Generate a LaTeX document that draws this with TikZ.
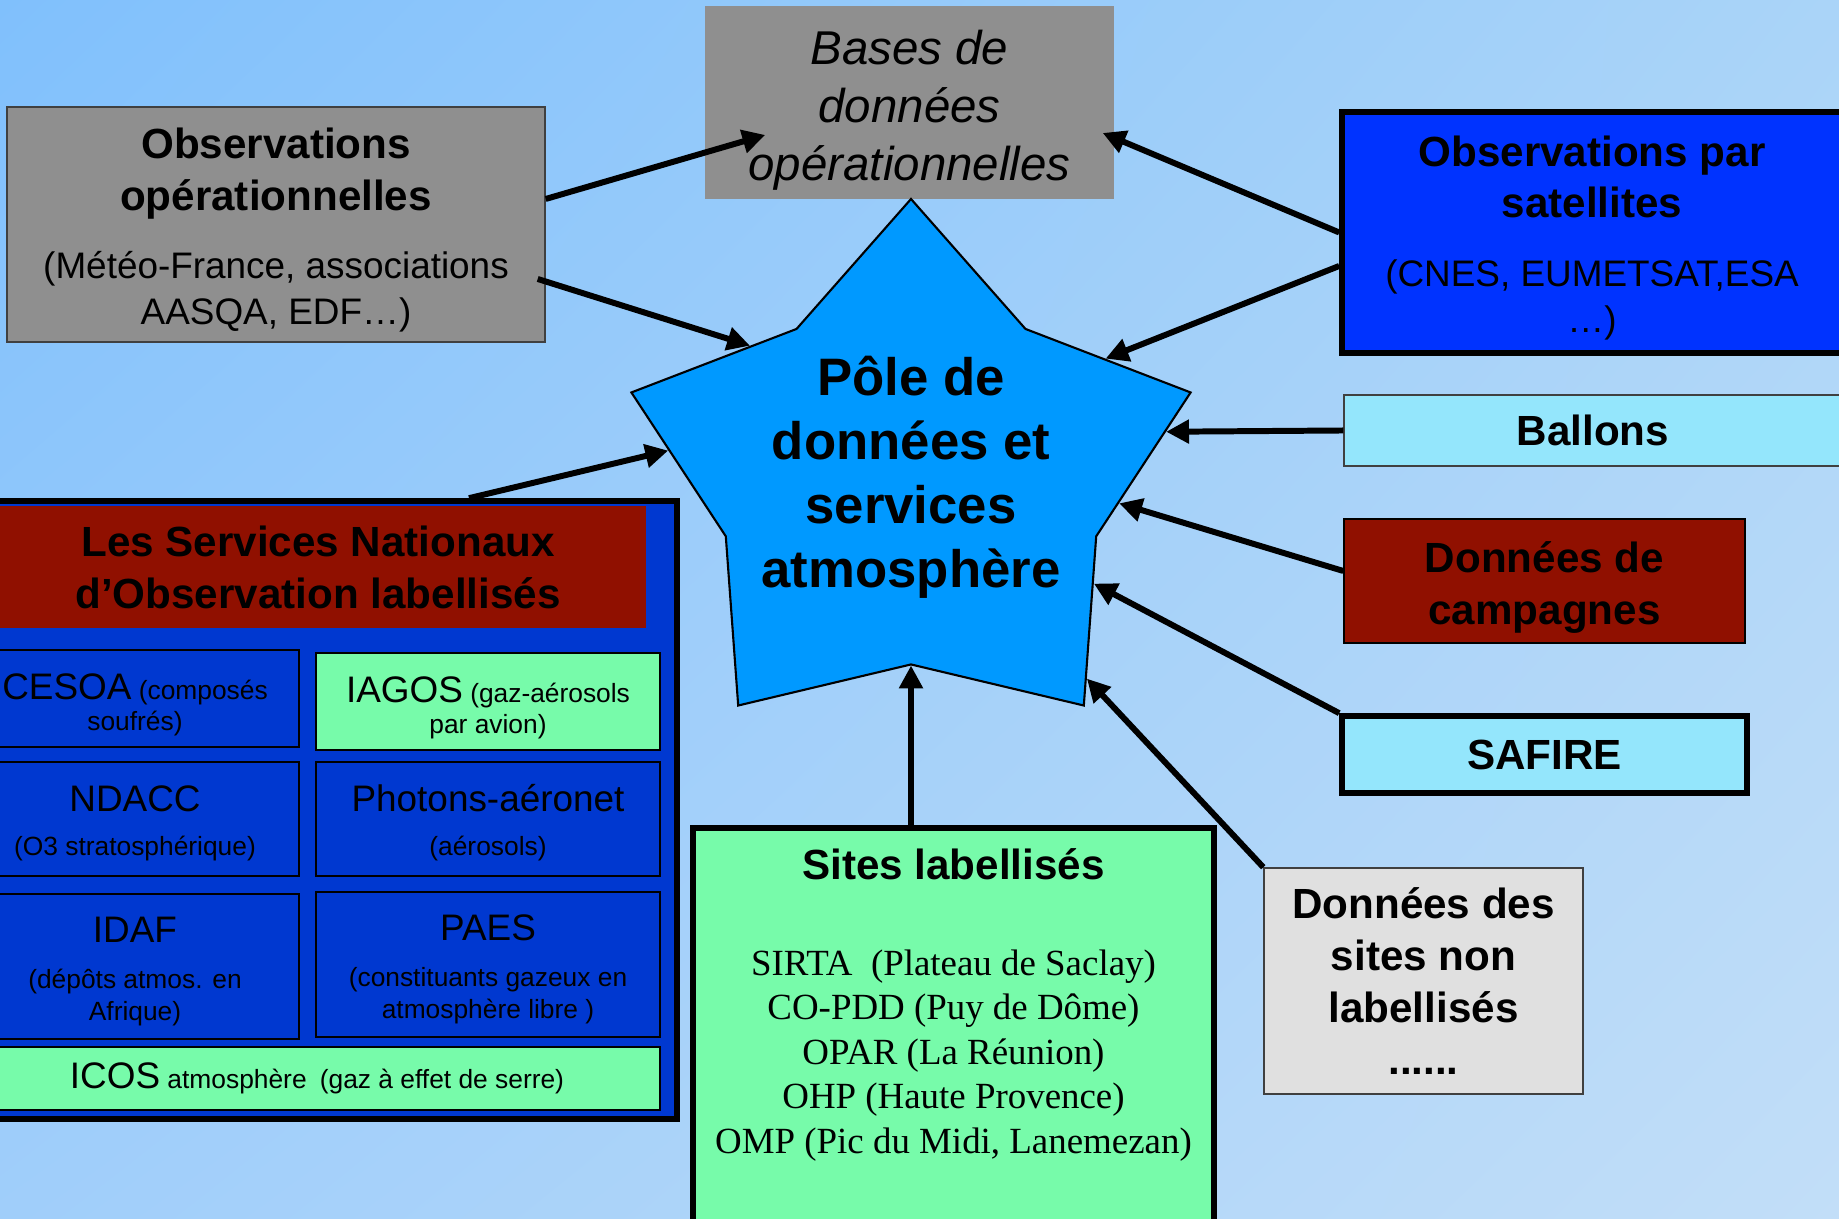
\documentclass[tikz,border=0pt]{standalone}
\usepackage{fontspec}
\setmainfont{Liberation Sans}
\newfontfamily\sitesfamily{Liberation Serif}
\usetikzlibrary{arrows.meta,calc,shapes.geometric,shadings}
\definecolor{bgTL}{HTML}{80C0FC}
\definecolor{bgTR}{HTML}{AAD4F8}
\definecolor{bgBL}{HTML}{A0CEFA}
\definecolor{bgBR}{HTML}{C2DEF8}
\definecolor{poleBlue}{HTML}{0099FF}
\definecolor{opGray}{HTML}{8F8F8F}
\definecolor{satBlue}{HTML}{0033FF}
\definecolor{snoBlue}{HTML}{0038D0}
\definecolor{snoRed}{HTML}{901000}
\definecolor{siteGreen}{HTML}{77FBAA}
\definecolor{balCyan}{HTML}{94E6FC}
\definecolor{nlGray}{HTML}{E0E0E0}
\newcommand{\boxhead}{\rmfamily\fontsize{12}{14.8}\selectfont\bfseries}
\newcommand{\boxsub}{\fontsize{10.5}{13}\selectfont}
\newcommand{\polehead}{\fontsize{15}{18.2}\selectfont\bfseries}
\newcommand{\baseshead}{\fontsize{13.5}{16.5}\selectfont\itshape}
\newcommand{\snoname}[1]{{\fontsize{10.5}{12.6}\selectfont #1}}
\newcommand{\snodesc}{\fontsize{7.5}{8.9}\selectfont}
\newcommand{\sitelist}{\sitesfamily\fontsize{10.5}{12.65}\selectfont}
\newcommand{\padtop}[1]{\rule{0pt}{#1}}

\begin{document}
\begin{tikzpicture}[
    plainbox/.style={draw=black!75,line width=.4pt,inner sep=0pt,align=center},
    heavybox/.style={draw=black,line width=1.6pt,inner sep=0pt,align=center},
    snobox/.style={draw=black,line width=.8pt,fill=snoBlue,inner sep=0pt,align=center,font=\snodesc},
    feed/.style={-{Triangle[length=6.5pt,width=6.5pt]},line width=1.7pt}]
  \useasboundingbox (0,0) rectangle (18.39,12.19);
  \clip (0,0) rectangle (18.39,12.19);
  \shade[upper left=bgTL,upper right=bgTR,lower left=bgBL,lower right=bgBR]
    (0,0) rectangle (18.39,12.19);

  % services nationaux d'observation
  \node[heavybox,fill=snoBlue,minimum width=7.17cm,minimum height=6.18cm] (sno) at (3.185,4.09) {};
  \node[fill=snoRed,inner sep=0pt,minimum width=6.56cm,minimum height=1.22cm,align=center,font=\boxhead]
    (snotitle) at (3.18,6.52) {Les Services Nationaux\\d’Observation labellisés};
  \node[snobox,minimum width=3.28cm,minimum height=.97cm] (cesoa) at (1.35,5.205)
    {\padtop{11pt}\snoname{CESOA} (composés\\soufrés)};
  \node[snobox,fill=siteGreen,minimum width=3.44cm,minimum height=.97cm] (iagos) at (4.88,5.175)
    {\padtop{11pt}\snoname{IAGOS} (gaz-aérosols\\par avion)};
  \node[snobox,minimum width=3.28cm,minimum height=1.14cm] (ndacc) at (1.35,4.00)
    {\padtop{10pt}\snoname{NDACC}\\[3.7pt](O3 stratosphérique)};
  \node[snobox,minimum width=3.44cm,minimum height=1.14cm] (photons) at (4.88,4.00)
    {\padtop{10pt}\snoname{Photons-aéronet}\\[3.7pt](aérosols)};
  \node[snobox,minimum width=3.28cm,minimum height=1.45cm] (idaf) at (1.35,2.525)
    {\padtop{10pt}\snoname{IDAF}\\[4.3pt](dépôts atmos. en\\Afrique)};
  \node[snobox,minimum width=3.44cm,minimum height=1.45cm] (paes) at (4.88,2.545)
    {\padtop{10pt}\snoname{PAES}\\[4.3pt](constituants gazeux en\\atmosphère libre )};
  \node[snobox,fill=siteGreen,minimum width=6.86cm,minimum height=.63cm] (icos) at (3.17,1.405)
    {\snoname{ICOS} atmosphère\enspace(gaz à effet de serre)};

  % sources autour du pole
  \node[plainbox,fill=opGray,minimum width=5.38cm,minimum height=2.35cm,font=\boxsub] (obsop) at (2.76,9.945)
    {{\padtop{12pt}\boxhead Observations}\\[1.8pt]{\boxhead opérationnelles}\\[6.3pt](Météo-France, associations\\AASQA, EDF…)};
  \node[fill=opGray,inner sep=0pt,minimum width=4.09cm,minimum height=1.93cm,align=center,font=\baseshead]
    (bases) at (9.095,11.165) {\padtop{14pt}Bases de\\données\\opérationnelles};
  \node[heavybox,fill=satBlue,minimum width=5cm,minimum height=2.41cm,font=\boxsub] (obssat) at (15.92,9.865)
    {{\padtop{11.8pt}\boxhead Observations par}\\[1.5pt]{\boxhead satellites}\\[6.6pt](CNES, EUMETSAT,ESA\\…)};
  \node[plainbox,fill=balCyan,minimum width=4.98cm,minimum height=.71cm,font=\boxhead] (ballons) at (15.93,7.885) {Ballons};
  \node[plainbox,draw=black,fill=snoRed,minimum width=4.01cm,minimum height=1.24cm,font=\boxhead]
    (campagnes) at (15.445,6.38) {\padtop{12.4pt}Données de\\campagnes};
  \node[heavybox,fill=balCyan,minimum width=4.05cm,minimum height=.77cm,font=\boxhead] (safire) at (15.445,4.645) {SAFIRE};
  \node[plainbox,fill=nlGray,minimum width=3.19cm,minimum height=2.26cm,font=\boxhead] (nonlab) at (14.235,2.38)
    {Données des\\sites non\\labellisés\\......};
  \node[heavybox,fill=siteGreen,minimum width=5.21cm,minimum height=4.24cm,anchor=north] (sites) at (9.535,3.94) {};
  \node[anchor=north,align=center,inner sep=0pt,font=\sitelist] (sitetext) at ([yshift=-.23cm]sites.north)
    {{\boxhead Sites labellisés}\\[14.6pt]SIRTA\ \ (Plateau de Saclay)\\CO-PDD (Puy de Dôme)\\OPAR (La Réunion)\\OHP (Haute Provence)\\OMP (Pic du Midi, Lanemezan)};

  % pole de donnees
  \node[star,star points=5,star point ratio=1.51,minimum size=5.6cm,inner sep=0pt,draw=black,line width=.6pt,
    fill=poleBlue,xscale=1.05] (pole) at (9.11,7.40) {};
  \node[font=\polehead,align=center,inner sep=0pt] (poletext) at (9.11,7.415)
    {Pôle de\\données et\\services\\atmosphère};

  \draw[feed] ([yshift=.255cm]obsop.east) -- ([shift={(.61,-.325)}]bases.west);
  \draw[feed] ([shift={(-.08,-.545)}]obsop.east) -- (pole.139);
  \draw[feed] (obssat.west) -- ([shift={(-.12,-.305)}]bases.east);
  \draw[feed] ([yshift=-.335cm]obssat.west) -- (pole.33);
  \draw[feed] (ballons.west) -- (pole.11);
  \draw[feed] ([yshift=.1cm]campagnes.west) -- (pole.353);
  \draw[feed] (safire.north west) -- (pole.329);
  \draw[feed] (nonlab.north west) -- (pole.310);
  \draw[feed] (pole.270 |- sites.north) -- (pole.270);
  \draw[feed] ([xshift=1.505cm]sno.north) -- (pole.173);
\end{tikzpicture}
\end{document}
